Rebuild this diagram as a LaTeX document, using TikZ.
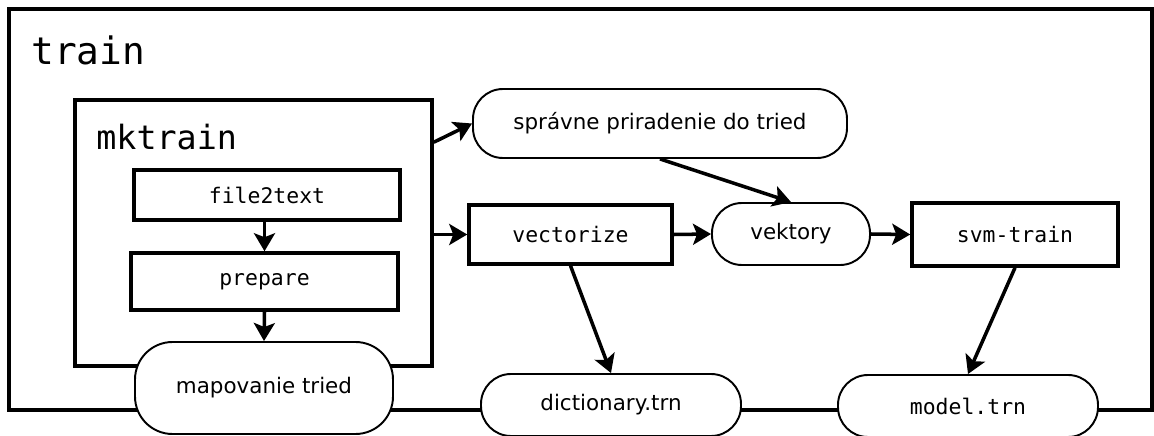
\documentclass[tikz,border=0pt]{standalone}
\usepackage{fontspec}
\setmainfont{DejaVu Sans}
\newfontfamily\monof{DejaVu Sans Mono}
\usetikzlibrary{arrows.meta,calc}

\tikzset{
  frame/.style={draw, line width=2pt},
  procbox/.style={draw, fill=white, line width=2pt, inner sep=0pt,
    font=\monof\fontsize{12.2}{14}\selectfont},
  databox/.style={draw, fill=white, line width=1.1pt, inner sep=0pt,
    rounded corners=0.6cm, font=\fontsize{12.2}{14}\selectfont},
  flow/.style={line width=2pt,
    -{Stealth[length=0.36cm, width=0.42cm, inset=0.08cm]}},
  title/.style={anchor=west, inner sep=0pt}
}

\begin{document}
\begin{tikzpicture}[x=0.02cm, y=-0.02cm]
\useasboundingbox (0,0) rectangle (1154,436);

% outer "train" frame
\node[frame, minimum width={1143*0.02cm}, minimum height={401*0.02cm}, inner sep=0pt]
  (train) at (580.5,209.5) {};
\node[title, font=\monof\fontsize{21.5}{24}\selectfont] (trainlbl) at (31,50) {train};

% inner "mktrain" frame
\node[frame, minimum width={357*0.02cm}, minimum height={266*0.02cm}, inner sep=0pt]
  (mk) at (253.5,233) {};
\node[title, font=\monof\fontsize{19}{22}\selectfont] (mklbl) at (96,137) {mktrain};

% processing steps
\node[procbox, minimum width={266*0.02cm}, minimum height={50*0.02cm}] (f2t) at (267,195) {file2text};
\node[procbox, minimum width={267*0.02cm}, minimum height={57*0.02cm}] (prep) at (264.5,281.5) {prepare};
\node[procbox, minimum width={203*0.02cm}, minimum height={59*0.02cm}] (vec) at (570.5,234.5) {vectorize};
\node[procbox, minimum width={206*0.02cm}, minimum height={63*0.02cm}] (svm) at (1015,234.5) {svm-train};

% data items
\node[databox, minimum width={258*0.02cm}, minimum height={92*0.02cm}, rounded corners=0.75cm] (map) at (264,388) {mapovanie tried};
\node[databox, minimum width={374*0.02cm}, minimum height={69*0.02cm}] (sp) at (660,123.5) {správne priradenie do tried};
\node[databox, minimum width={158*0.02cm}, minimum height={62*0.02cm}] (vk) at (791,234) {vektory};
\node[databox, minimum width={260*0.02cm}, minimum height={62*0.02cm}] (dict) at (611,405) {dictionary.trn};
\node[databox, minimum width={260*0.02cm}, minimum height={62*0.02cm}, font=\monof\fontsize{12.2}{14}\selectfont] (model) at (968,406) {model.trn};

% data flow
\draw[flow] (prep.north |- f2t.south) -- (prep.north);
\draw[flow] (prep.south) -- (map.north);
\draw[flow] ($(mk.north east)+(0,44)$) -- (sp.west);
\draw[flow] (mk.east |- vec.west) -- (vec.west);
\draw[flow] (sp.south) -- (vk.north);
\draw[flow] (vec.east) -- (vk.west);
\draw[flow] (vk.east) -- (svm.west);
\draw[flow] (vec.south) -- (dict.north);
\draw[flow] (svm.south) -- (model.north);
\end{tikzpicture}
\end{document}
